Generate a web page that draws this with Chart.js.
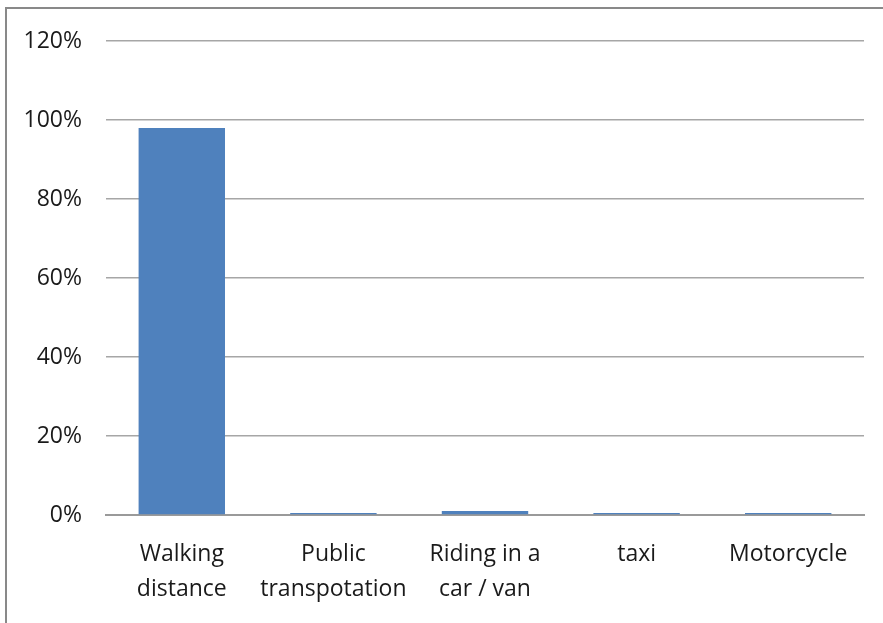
<!DOCTYPE html>
<html>
<head>
<meta charset="utf-8">
<script src="https://cdn.jsdelivr.net/npm/chart.js@4"></script>
<style>
    body { margin: 0; background: #fff; }
    .wrap { position: relative; width: 883px; height: 623px; overflow: hidden; }
    .frame { position: absolute; left: 5px; top: 7px; width: 900px; height: 700px; border-left: 2px solid #898989; border-top: 2px solid #898989; }
    canvas { position: absolute; left: 0; top: 0; }
</style>
</head>
<body>
<div class="wrap">
    <div class="frame"></div>
    <canvas id="chart" width="883" height="623"></canvas>
</div>
<script>
const categories = [['Walking', 'distance'], ['Public', 'transpotation'], ['Riding in a', 'car / van'], 'taxi', 'Motorcycle'];
const values = [98, 0.5, 1, 0.5, 0.5];
const yTicks = [0, 20, 40, 60, 80, 100, 120];

const yFont = { family: "'Open Sans', sans-serif", size: 23 };
const xFont = { family: "'Open Sans', sans-serif", size: 23, lineHeight: 1.53 };

const chart = new Chart(document.getElementById('chart').getContext('2d'), {
    type: 'bar',
    data: {
        labels: categories,
        datasets: [{
            data: values,
            backgroundColor: '#4f81bd',
            barPercentage: 0.57,
            categoryPercentage: 1
        }]
    },
    options: {
        responsive: false,
        animation: false,
        layout: { padding: { left: 0, right: 19, top: 41, bottom: 0 } },
        plugins: { legend: { display: false }, tooltip: { enabled: false } },
        scales: {
            x: {
                grid: { display: false, drawTicks: false },
                border: { color: '#9a9a9a', width: 2 },
                ticks: { color: '#1a1a1a', font: xFont, padding: 22, maxRotation: 0 },
                afterFit: s => { s.height = 108; }
            },
            y: {
                min: 0,
                max: 120,
                afterBuildTicks: s => { s.ticks = yTicks.map(v => ({ value: v })); },
                grid: { color: '#a6a6a6', lineWidth: 1.5, drawTicks: false },
                border: { display: false },
                ticks: { color: '#1a1a1a', font: yFont, padding: 24, callback: v => v + '%' },
                afterFit: s => { s.width = 106; }
            }
        }
    }
});
</script>
</body>
</html>
